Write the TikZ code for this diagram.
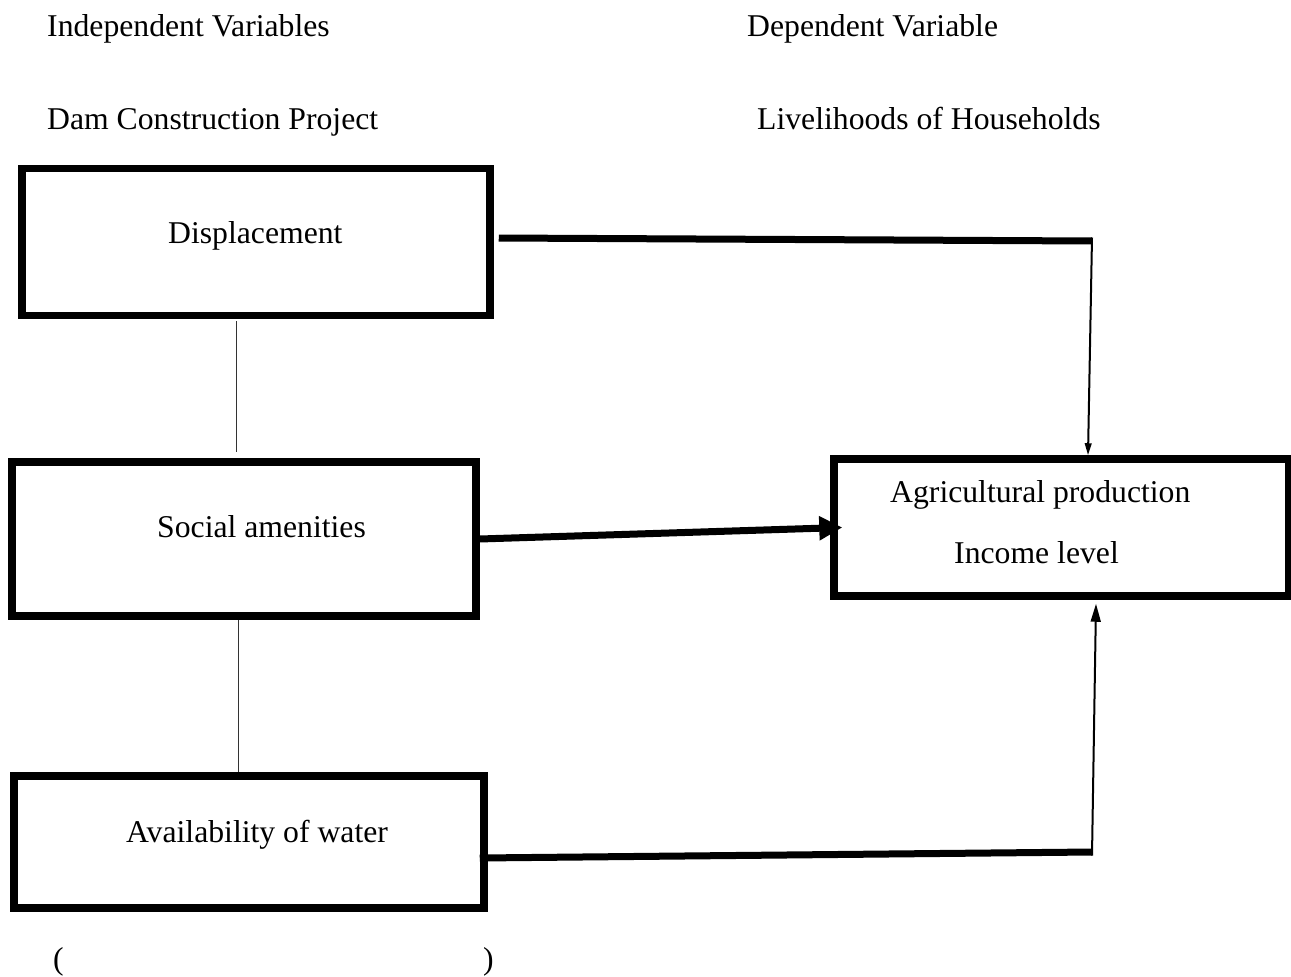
\documentclass[tikz,border=0pt]{standalone}
\usepackage{fontspec}
\setmainfont{Liberation Serif}
\usetikzlibrary{arrows.meta,calc,positioning}

\begin{document}
\begin{tikzpicture}[
    x=1pt, y=-1pt,
    every node/.style={font=\fontsize{31.7}{38}\selectfont, inner sep=0pt},
    varbox/.style={
        rectangle,
        draw=black,
        line width=7.5pt,
        minimum width=#1
    },
    thicklink/.style={
        line width=7pt
    },
    thinlink/.style={
        line width=1pt,
        draw=black!80
    },
    feedarrow/.style={
        -{Triangle[length=#1, width=0.55*#1]},
        line width=2pt
    }
]

    % Page frame
    \useasboundingbox (0,0) rectangle (1291,977);

    % Column headings
    \node[anchor=base west] (hdrIndep) at (47,36) {Independent Variables};
    \node[anchor=base west] (hdrDep) at (747,36) {Dependent Variable};
    \node[anchor=base west] (hdrDam) at (47,129) {Dam Construction Project};
    \node[anchor=base west] (hdrLive) at (757,129) {Livelihoods of Households};

    % Independent variable boxes
    \node[varbox=468pt, minimum height=147pt] (disp) at (256,242) {};
    \node[varbox=464pt, minimum height=154pt] (social) at (244,539) {};
    \node[varbox=470pt, minimum height=132pt] (water) at (249,842) {};

    \node[anchor=base west] (txtDisp) at (168,243) {Displacement};
    \node[anchor=base west] (txtSocial) at (157,537) {Social amenities};
    \node[anchor=base west] (txtWater) at (126,842) {Availability of water};

    % Dependent variable box
    \node[varbox=455pt, minimum height=137pt] (agri) at (1061.5,527.5) {};
    \node[anchor=base west] (txtAgri) at (890,502) {Agricultural production};
    \node[anchor=base west] (txtIncome) at (954,563) {Income level};

    % Thin links between the left boxes
    \draw[thinlink] ([xshift=-20, yshift=-2]disp.south) -- ([xshift=-8, yshift=6]social.north);
    \draw[thinlink] ([xshift=-6]social.south) -- ([xshift=-11]water.north);

    % Corners of the elbow links
    \coordinate (cornerTop) at (1092,241);
    \coordinate (cornerBot) at (1092,852);

    % Displacement -> livelihoods
    \draw[thicklink] ([xshift=5, yshift=4]disp.east) -- (cornerTop);
    \draw[feedarrow=12pt] ($(cornerTop)+(0,-3.5)$) -- ([xshift=-4]cornerTop |- agri.north);

    % Social amenities -> livelihoods
    \draw[thicklink, -{Triangle[length=23pt, width=23pt]}]
        (social.east) -- ([xshift=12]agri.west);

    % Availability of water -> livelihoods
    \draw[thicklink] ([xshift=-8, yshift=-16]water.east) -- (cornerBot);
    \draw[feedarrow=18pt] ($(cornerBot)+(0,3.5)$) -- ([xshift=4, yshift=-4]cornerBot |- agri.south);

    % Bracket under the boxes
    \node[anchor=base west] (openBr) at (53,969) {(};
    \node[anchor=base west] (closeBr) at (483,969) {)};

\end{tikzpicture}
\end{document}
